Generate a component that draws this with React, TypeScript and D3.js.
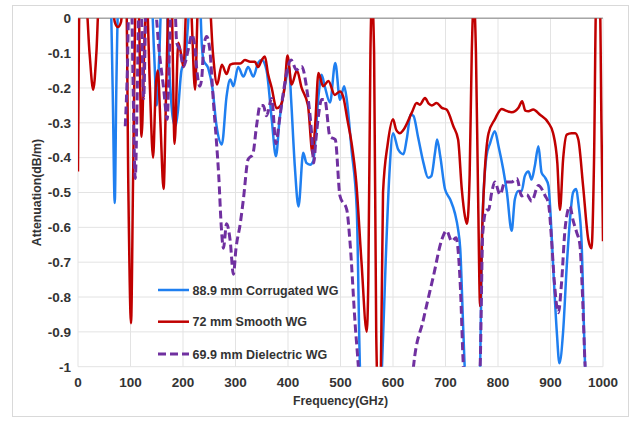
import React from "react";
import * as d3 from "d3";

type P = [number, number];

const X_TICKS = [0, 100, 200, 300, 400, 500, 600, 700, 800, 900, 1000];
const Y_TICKS = [0, -0.1, -0.2, -0.3, -0.4, -0.5, -0.6, -0.7, -0.8, -0.9, -1];
const X_TICK_LABELS = ["0", "100", "200", "300", "400", "500", "600", "700", "800", "900", "1000"];
const Y_TICK_LABELS = ["0", "-0.1", "-0.2", "-0.3", "-0.4", "-0.5", "-0.6", "-0.7", "-0.8", "-0.9", "-1"];

const SERIES_NAMES = ["88.9 mm Corrugated WG", "72 mm Smooth WG", "69.9 mm Dielectric WG"];

const corrugated: P[] = [
  [0, 0.05], [62, 0.05], [66, -0.2], [70, -0.53], [73, -0.2], [77, 0.05], [140, 0.05], [145, -0.1],
  [150, -0.25], [155, -0.1], [159, 0.05], [168, 0.05], [174, -0.15], [180, -0.28], [185, -0.31],
  [190, -0.27], [197, -0.15], [204, -0.12], [209, -0.03], [213, 0.05], [232, 0.05], [236, -0.08],
  [239, -0.12], [248, -0.143], [256, -0.2], [264, -0.31], [274, -0.362], [283, -0.224], [290, -0.176],
  [296, -0.195], [305, -0.14], [315, -0.167], [324, -0.14], [334, -0.167], [343, -0.128], [350, -0.12],
  [359, -0.148], [369, -0.29], [377, -0.396], [384, -0.29], [394, -0.195], [402, -0.138], [406, -0.234],
  [413, -0.425], [420, -0.54], [429, -0.386], [435, -0.415], [442, -0.42], [448, -0.41], [458, -0.224],
  [464, -0.162], [470, -0.195], [480, -0.242], [490, -0.128], [499, -0.234], [507, -0.195], [512, -0.234],
  [521, -0.377], [531, -0.55], [537, -1.0], [540, -1.1], [575, -1.1], [579, -1.0], [586, -0.7],
  [593, -0.45], [600, -0.33], [610, -0.377], [620, -0.39], [626, -0.348], [634, -0.276], [639, -0.28],
  [648, -0.343], [658, -0.415], [667, -0.458], [673, -0.453], [680, -0.386], [684, -0.348], [690, -0.396],
  [699, -0.49], [709, -0.52], [718, -0.56], [724, -0.606], [728, -0.66], [734, -0.9], [738, -1.05],
  [741, -1.1], [763, -1.1], [766, -1.0], [770, -0.6], [778, -0.396], [785, -0.358], [794, -0.324],
  [801, -0.367], [810, -0.434], [817, -0.5], [826, -0.61], [832, -0.52], [839, -0.496], [845, -0.496],
  [851, -0.453], [858, -0.44], [864, -0.463], [870, -0.425], [877, -0.367], [883, -0.443], [890, -0.458],
  [896, -0.48], [900, -0.56], [905, -0.71], [912, -0.9], [917, -0.99], [924, -0.9], [931, -0.71],
  [937, -0.58], [943, -0.5], [949, -0.49], [953, -0.53], [959, -0.635], [966, -1.0], [970, -1.1],
];

const smooth: P[] = [
  [0, -0.44], [3, 0.05], [15, 0.05], [22, -0.1], [29, -0.205], [35, -0.1], [40, 0.05], [64, 0.05],
  [70, -0.01], [76, -0.025], [82, -0.01], [86, 0.05], [92, 0.05], [96, -0.5], [101, -0.875], [105, -0.45],
  [110, 0.05], [115, 0.05], [121, -0.34], [127, -0.05], [131, 0.05], [137, -0.2], [143, -0.4], [148, -0.2],
  [152, -0.15], [157, -0.3], [163, -0.49], [168, -0.2], [173, 0.05], [178, 0.05], [184, -0.36], [191, -0.07],
  [196, -0.1], [201, -0.14], [207, 0.05], [214, 0.05], [223, -0.205], [229, 0.05], [250, 0.05], [257, -0.1],
  [265, -0.19], [274, -0.133], [283, -0.16], [290, -0.133], [299, -0.13], [309, -0.13], [318, -0.12],
  [328, -0.125], [337, -0.125], [343, -0.14], [350, -0.12], [356, -0.11], [362, -0.16], [369, -0.2],
  [378, -0.258], [386, -0.25], [394, -0.19], [399, -0.107], [407, -0.19], [417, -0.15], [426, -0.2],
  [438, -0.25], [447, -0.39], [452, -0.3], [458, -0.157], [467, -0.195], [477, -0.18], [489, -0.22],
  [499, -0.21], [505, -0.224], [513, -0.29], [521, -0.357], [530, -0.47], [540, -0.7], [550, -0.9],
  [553, -0.75], [557, -0.1], [560, 0.06], [564, -0.1], [568, -0.9], [572, -1.1], [577, -1.0], [581, -0.5],
  [590, -0.36], [600, -0.29], [606, -0.32], [613, -0.33], [620, -0.32], [636, -0.27], [645, -0.243],
  [651, -0.248], [661, -0.229], [668, -0.245], [674, -0.25], [683, -0.243], [693, -0.257], [702, -0.262],
  [715, -0.31], [724, -0.348], [731, -0.49], [737, -0.568], [741, -0.59], [746, -0.45], [750, -0.1],
  [754, 0.05], [758, -0.1], [762, -0.5], [766, -0.826], [770, -0.6], [775, -0.434], [782, -0.33],
  [794, -0.29], [807, -0.26], [815, -0.265], [826, -0.27], [839, -0.257], [846, -0.238], [852, -0.265],
  [858, -0.267], [867, -0.262], [880, -0.277], [896, -0.3], [905, -0.33], [913, -0.415], [918, -0.55],
  [924, -0.405], [931, -0.334], [940, -0.33], [947, -0.33], [953, -0.348], [962, -0.48], [972, -0.635],
  [978, -0.66], [983, -0.4], [987, 0.05], [994, 0.05], [997, -0.3], [1000, -0.64],
];

const dielectric: P[] = [
  [90, -0.31], [94, -0.15], [97, 0.05], [102, 0.05], [105, -0.2], [109, -0.46], [113, -0.2], [116, 0.05],
  [120, 0.05], [125, -0.23], [130, 0.05], [145, 0.05], [155, -0.1], [163, -0.2], [170, -0.29], [174, -0.1],
  [178, 0.05], [184, 0.05], [188, -0.07], [194, -0.09], [201, -0.138], [210, -0.09], [217, -0.047],
  [223, -0.09], [226, -0.143], [232, -0.195], [236, -0.167], [239, -0.09], [245, -0.052], [251, -0.09],
  [258, -0.242], [264, -0.36], [268, -0.45], [273, -0.6], [277, -0.66], [283, -0.59], [290, -0.64],
  [296, -0.735], [301, -0.66], [309, -0.59], [315, -0.52], [324, -0.405], [333, -0.39], [340, -0.31],
  [347, -0.25], [353, -0.25], [359, -0.28], [369, -0.23], [377, -0.36], [383, -0.3], [391, -0.214],
  [400, -0.138], [406, -0.12], [416, -0.148], [426, -0.138], [435, -0.195], [445, -0.33], [449, -0.415],
  [453, -0.35], [458, -0.28], [464, -0.233], [470, -0.233], [480, -0.34], [490, -0.348], [499, -0.51],
  [512, -0.55], [518, -0.64], [528, -0.88], [534, -1.0], [538, -1.1], [600, -1.3], [635, -1.1],
  [639, -1.0], [658, -0.864], [677, -0.74], [693, -0.635], [702, -0.61], [712, -0.64], [720, -0.63],
  [728, -0.76], [734, -1.0], [738, -1.1], [762, -1.1], [766, -1.0], [771, -0.615], [778, -0.55],
  [782, -0.55], [788, -0.5], [794, -0.47], [804, -0.506], [813, -0.47], [826, -0.47], [836, -0.46],
  [845, -0.51], [855, -0.506], [864, -0.525], [877, -0.48], [890, -0.51], [896, -0.53], [902, -0.635],
  [907, -0.75], [915, -0.845], [921, -0.76], [928, -0.6], [937, -0.54], [943, -0.58], [950, -0.615],
  [956, -0.65], [960, -0.76], [966, -1.0], [970, -1.1],
];

const COLORS = ["#1f7ff0", "#c00000", "#7030a0"];

export default function App() {
  const W = 633;
  const H = 421;
  const x = d3.scaleLinear().domain([0, 1000]).range([78, 603]);
  const y = d3.scaleLinear().domain([-1, 0]).range([366.7, 18.3]);
  const line = d3
    .line<P>()
    .x((d) => x(d[0]))
    .y((d) => y(d[1]))
    .curve(d3.curveMonotoneX);

  const font = "'Liberation Sans', Arial, sans-serif";
  const textColor = "#333333";
  const series = [corrugated, smooth, dielectric];
  const legendY = [290, 321.7, 354];

  return (
    <svg
      width={W}
      height={H}
      style={{ position: "absolute", left: 0, top: 0, background: "#fff" }}
      fontFamily={font}
    >
      <rect x={0} y={0} width={W} height={H} fill="#fff" />
      <rect x={12.5} y={5.5} width={616} height={411} fill="#fff" stroke="#d9d9d9" strokeWidth={1} />
      <defs>
        <clipPath id="plotclip">
          <rect x={x(0)} y={y(0)} width={x(1000) - x(0)} height={y(-1) - y(0)} />
        </clipPath>
      </defs>
      {X_TICKS.map((t) => (
        <line key={"gx" + t} x1={x(t)} x2={x(t)} y1={y(0)} y2={y(-1)} stroke="#e3e3e3" strokeWidth={1} />
      ))}
      {Y_TICKS.map((t) => (
        <line key={"gy" + t} x1={x(0)} x2={x(1000)} y1={y(t)} y2={y(t)} stroke="#e3e3e3" strokeWidth={1} />
      ))}
      <line x1={x(0)} x2={x(1000)} y1={y(0)} y2={y(0)} stroke="#a6a6a6" strokeWidth={1.5} />
      <g clipPath="url(#plotclip)">
        {series.map((s, i) => (
          <path
            key={i}
            d={line(s) || ""}
            fill="none"
            stroke={COLORS[i]}
            strokeWidth={i === 2 ? 3 : 2.5}
            strokeDasharray={i === 2 ? "8 4" : undefined}
            strokeLinejoin="round"
          />
        ))}
      </g>
      {Y_TICKS.map((t, i) => (
        <text
          key={"yl" + t}
          x={71}
          y={y(t) + 4.8}
          textAnchor="end"
          fontSize={13.5}
          fontWeight="bold"
          fill={textColor}
        >
          {Y_TICK_LABELS[i]}
        </text>
      ))}
      {X_TICKS.map((t, i) => (
        <text
          key={"xl" + t}
          x={x(t)}
          y={387}
          textAnchor="middle"
          fontSize={13.5}
          fontWeight="bold"
          fill={textColor}
        >
          {X_TICK_LABELS[i]}
        </text>
      ))}
      <text x={340.5} y={405} textAnchor="middle" fontSize={12.3} fontWeight="bold" fill={textColor}>
        Frequency(GHz)
      </text>
      <text
        transform={`translate(40.5,${(y(0) + y(-1)) / 2}) rotate(-90)`}
        textAnchor="middle"
        fontSize={12.3}
        fontWeight="bold"
        fill={textColor}
      >
        Attenuation(dB/m)
      </text>
      {SERIES_NAMES.map((name, i) => (
        <g key={"lg" + i}>
          <line
            x1={158}
            x2={189}
            y1={legendY[i]}
            y2={legendY[i]}
            stroke={COLORS[i]}
            strokeWidth={i === 2 ? 3 : 2.5}
            strokeDasharray={i === 2 ? "8 4" : undefined}
          />
          <text x={192.5} y={legendY[i] + 4.5} fontSize={12.5} fontWeight="bold" fill={textColor}>
            {name}
          </text>
        </g>
      ))}
    </svg>
  );
}
